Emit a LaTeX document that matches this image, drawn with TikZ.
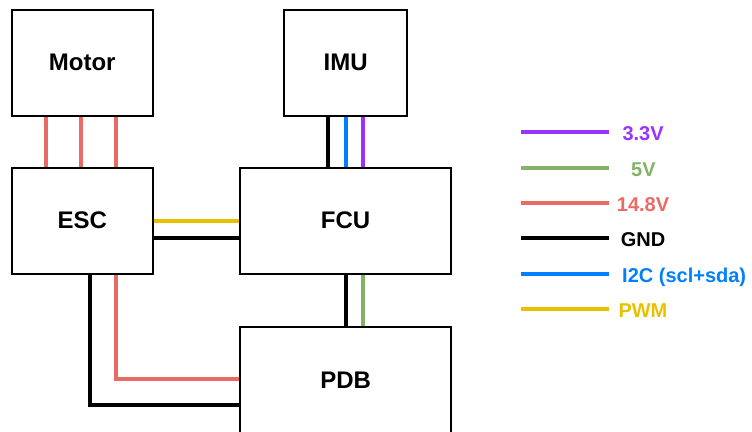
\documentclass[tikz,border=0pt]{standalone}
\usepackage{fontspec}
\setmainfont{Liberation Sans}
\definecolor{cpurple}{HTML}{9933FF}
\definecolor{cgreen}{HTML}{82B366}
\definecolor{cred}{HTML}{EA6B66}
\definecolor{cblue}{HTML}{007FFF}
\definecolor{cyellow}{HTML}{E8C000}
\tikzset{
  box/.style={draw=black, line width=2pt, fill=white, minimum width=141pt, minimum height=106pt, inner sep=0pt, font=\fontsize{24}{28}\selectfont\bfseries},
  wide/.style={box, minimum width=211pt},
  wire/.style={line width=4pt},
  leg/.style={anchor=base west, inner sep=0pt, font=\fontsize{20}{24}\selectfont\bfseries}
}
\begin{document}
\begin{tikzpicture}[x=1pt,y=-1pt]
\useasboundingbox (0,0) rectangle (752,431);
\clip (0,0) rectangle (752,431);
% boxes
\node[box] (motor) at (82.2,62.5) {Motor};
\node[box, minimum width=123pt] (imu) at (345.6,62.5) {IMU};
\node[box] (esc) at (82.2,220.7) {ESC};
\node[wide] (fcu) at (345.6,220.7) {FCU};
\node[wide] (pdb) at (345.6,380) {PDB};
% motor - esc
\foreach \dx in {35.3,70.3,105.3}
  \draw[wire, cred] ([xshift=\dx pt]motor.south west) -- ([xshift=\dx pt]esc.north west);
% imu - fcu
\draw[wire, black] ([xshift=-17.5pt]imu.south) -- ([xshift=-17.5pt]fcu.north);
\draw[wire, cblue] (imu.south) -- (fcu.north);
\draw[wire, cpurple] ([xshift=17.5pt]imu.south) -- ([xshift=17.5pt]fcu.north);
% esc - fcu
\draw[wire, cyellow] (esc.east) -- (fcu.west);
\draw[wire, black] ([yshift=-17.6pt]esc.east) -- ([yshift=-17.6pt]fcu.west);
% fcu - pdb
\draw[wire, black] (fcu.south) -- (pdb.north);
\draw[wire, cgreen] ([xshift=17.5pt]fcu.south) -- ([xshift=17.5pt]pdb.north);
% esc - pdb
\draw[wire, cred] ([xshift=105.6pt]esc.south west) |- ([yshift=1pt]pdb.west);
\draw[wire, black] ([xshift=79pt]esc.south west) |- ([yshift=-25.3pt]pdb.west);
% redraw boxes borders on top
\node[box] at (motor) {Motor};
\node[box, minimum width=123pt] at (imu) {IMU};
\node[box] at (esc) {ESC};
\node[wide] at (fcu) {FCU};
\node[wide] at (pdb) {PDB};
% legend
\foreach \i/\y/\c/\tx/\t in {1/132.3/cpurple/622.3/3.3V, 2/167.7/cgreen/631/5V, 3/203/cred/616.7/14.8V, 4/238.3/black/620.7/GND, 5/273.7/cblue/622/I2C (scl+sda), 6/309/cyellow/618.3/PWM}{
  \coordinate (la\i) at (521,\y);
  \coordinate (lb\i) at (609,\y);
  \draw[wire, \c] (la\i) -- (lb\i);
  \node[leg, text=\c] (lt\i) at (\tx,\y+8.5) {\t};
}
\end{tikzpicture}
\end{document}
